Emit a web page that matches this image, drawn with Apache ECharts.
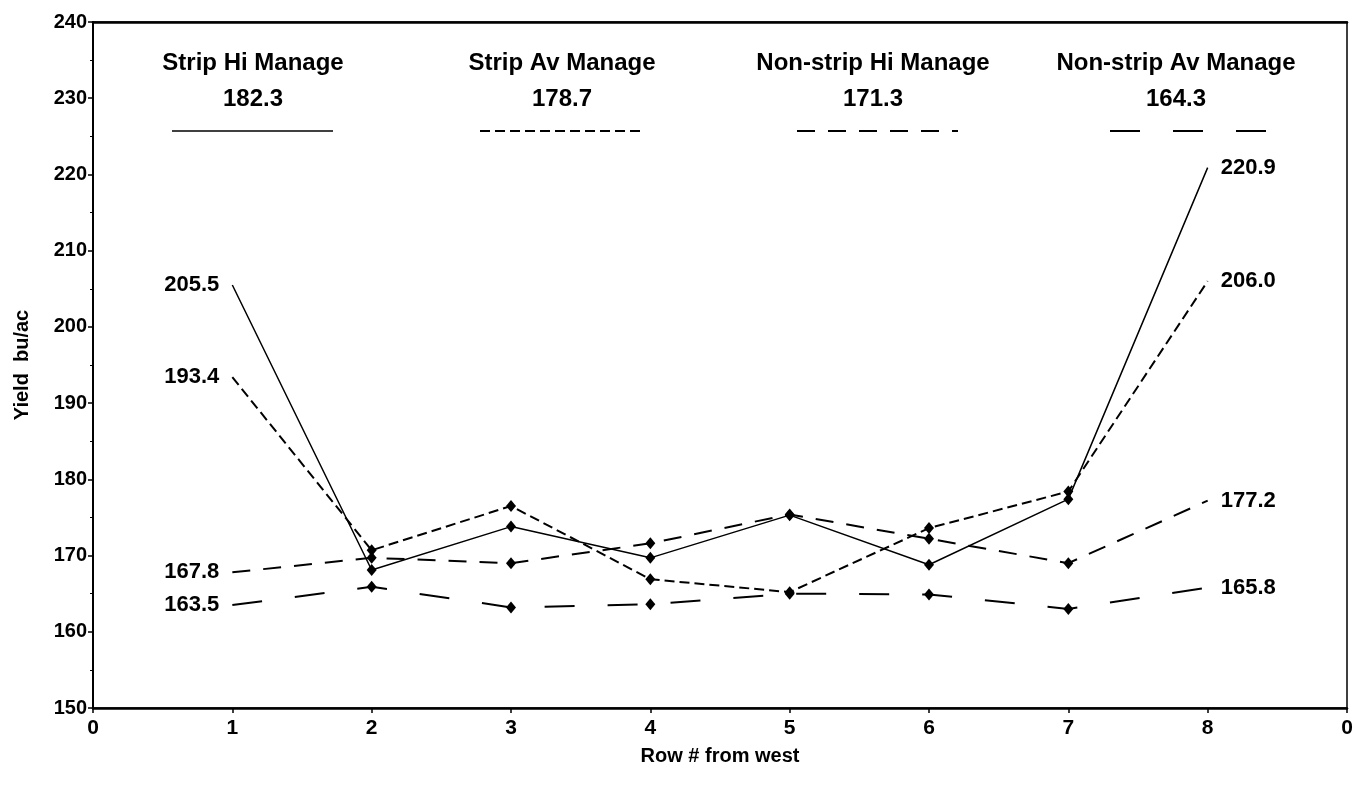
<!DOCTYPE html>
<html>
<head>
<meta charset="utf-8">
<script src="https://cdn.jsdelivr.net/npm/echarts@6/dist/echarts.min.js"></script>
<style>html,body{margin:0;padding:0;background:#fff}#c{width:1356px;height:785px}</style>
</head>
<body>
<div id="c"></div>
<script>
const rows = [1, 2, 3, 4, 5, 6, 7, 8];
const stripHi   = [205.5, 168.1, 173.8, 169.7, 175.3, 168.8, 177.4, 220.9];
const stripAv   = [193.4, 170.7, 176.5, 166.9, 165.2, 173.6, 178.4, 206.0];
const nonStripHi = [167.8, 169.7, 169.0, 171.6, 175.4, 172.2, 169.0, 177.2];
const nonStripAv = [163.5, 165.9, 163.2, 163.6, 165.0, 164.9, 163.0, 165.8];
const seriesNames = ['Strip Hi Manage', 'Strip Av Manage', 'Non-strip Hi Manage', 'Non-strip Av Manage'];
const seriesMeans = ['182.3', '178.7', '171.3', '164.3'];
const xTickLabels = ['0', '1', '2', '3', '4', '5', '6', '7', '8', '0'];
const yTickLabels = ['150', '160', '170', '180', '190', '200', '210', '220', '230', '240'];

const FONT = '"Liberation Sans", Arial, sans-serif';
const chart = echarts.init(document.getElementById('c'));

const dashStyles = [
  { type: 'solid', width: 1.5 },
  { type: [10, 5], width: 2 },
  { type: [18, 13], width: 2 },
  { type: [30, 33], width: 2 }
];
const allValues = [stripHi, stripAv, nonStripHi, nonStripAv];

function buildData(vals) {
  return vals.map((v, i) => {
    const item = { value: [rows[i], v] };
    if (i === 0 || i === vals.length - 1) {
      item.symbol = 'circle';
      item.symbolSize = 0.01;
      item.label = {
        show: true,
        position: i === 0 ? 'left' : 'right',
        distance: 13,
        formatter: p => p.value[1].toFixed(1),
        fontFamily: FONT, fontWeight: 'bold', fontSize: 22, color: '#000'
      };
    }
    return item;
  });
}

const series = allValues.map((vals, k) => ({
  name: seriesNames[k],
  type: 'line',
  data: buildData(vals),
  symbol: 'diamond',
  symbolSize: [10, 12],
  showAllSymbol: true,
  itemStyle: { color: '#000' },
  lineStyle: Object.assign({ color: '#000' }, dashStyles[k]),
  emphasis: { disabled: true },
  z: 3 + k
}));

// legend drawn as graphics (text above line sample)
const legendCenters = [253, 562, 873, 1176];
const legendSpans = [[172, 333], [480, 645], [797, 958], [1110, 1268]];
const graphics = [];
seriesNames.forEach((n, k) => {
  graphics.push({
    type: 'text', x: legendCenters[k], y: 45,
    style: { text: n + '\n' + seriesMeans[k], align: 'center', fill: '#000',
      font: 'bold 24px ' + FONT, lineHeight: 36 },
    z: 10
  });
  graphics.push({
    type: 'line',
    shape: { x1: legendSpans[k][0], y1: 131, x2: legendSpans[k][1], y2: 131 },
    style: { stroke: '#000', lineWidth: dashStyles[k].width,
      lineDash: dashStyles[k].type === 'solid' ? null : dashStyles[k].type },
    z: 10
  });
});

chart.setOption({
  animation: false,
  backgroundColor: '#fff',
  grid: { left: 93, right: 9, top: 22, bottom: 77, show: true, borderColor: '#000', borderWidth: 1.5,
    outerBoundsMode: 'none', containLabel: false },
  xAxis: [{
    type: 'value', min: 0, max: 9, interval: 1,
    name: 'Row # from west', nameLocation: 'middle', nameGap: 38,
    nameTextStyle: { fontFamily: FONT, fontWeight: 'bold', fontSize: 20, color: '#000' },
    axisLine: { show: true, lineStyle: { color: '#000', width: 2.5 } },
    axisTick: { show: true, length: 5, lineStyle: { color: '#000', width: 1.5 } },
    axisLabel: { formatter: v => xTickLabels[v], fontFamily: FONT, fontWeight: 'bold', fontSize: 21, color: '#000', margin: 10 },
    splitLine: { show: false }
  }, {
    type: 'value', min: 0, max: 9, interval: 1, position: 'top',
    axisLine: { show: true, lineStyle: { color: '#000', width: 2.5 } },
    axisTick: { show: false }, axisLabel: { show: false }, splitLine: { show: false }
  }],
  yAxis: [{
    type: 'value', min: 150, max: 240, interval: 10,
    name: 'Yield  bu/ac', nameLocation: 'middle', nameGap: 61,
    nameTextStyle: { fontFamily: FONT, fontWeight: 'bold', fontSize: 20, color: '#000' },
    axisLine: { show: true, lineStyle: { color: '#000', width: 2 } },
    axisTick: { show: true, length: 5, lineStyle: { color: '#000', width: 1.5 } },
    minorTick: { show: true, splitNumber: 2, length: 3, lineStyle: { color: '#000', width: 1 } },
    axisLabel: { formatter: v => yTickLabels[Math.round((v - 150) / 10)], fontFamily: FONT, fontWeight: 'bold', fontSize: 20, color: '#000', margin: 6 },
    splitLine: { show: false }
  }],
  series: series,
  graphic: graphics
});
</script>
</body>
</html>
